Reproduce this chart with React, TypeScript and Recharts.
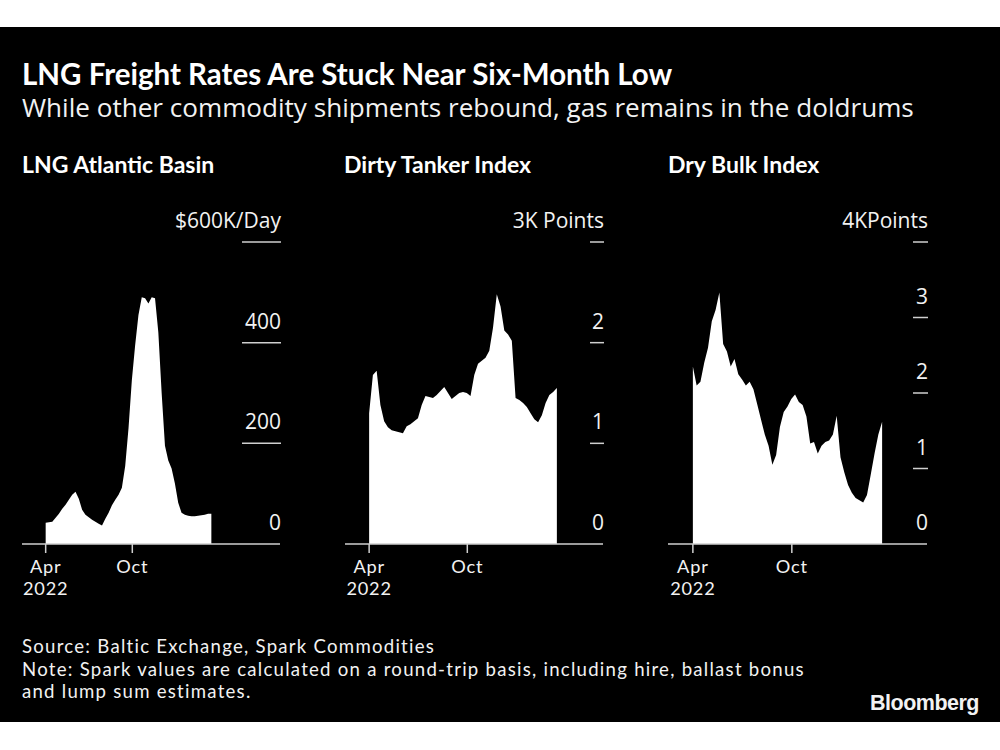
import React from 'react';
import { AreaChart, Area, XAxis, YAxis } from 'recharts';

// weekly samples starting Fri 1 Apr 2022 (day 0), ending mid-March 2023
const lngRates = [
  42, 43, 44, 52, 60, 70, 78, 88, 98, 104, 90, 68, 58, 53, 48, 44, 40, 37, 50, 62,
  77, 88, 98, 112, 155, 230, 325, 395, 455, 490, 488, 478, 490, 488, 420, 300, 195, 166, 150, 120,
  82, 62, 58, 56, 55, 55, 56, 57, 58, 60, 60,
];
const dirtyTanker = [
  1.3, 1.68, 1.72, 1.38, 1.22, 1.16, 1.13, 1.12, 1.11, 1.1, 1.17, 1.19, 1.22, 1.25, 1.38, 1.47, 1.46, 1.45, 1.48, 1.52,
  1.56, 1.5, 1.44, 1.47, 1.5, 1.51, 1.5, 1.47, 1.68, 1.79, 1.82, 1.85, 1.92, 2.15, 2.48, 2.36, 2.12, 2.08, 2.02, 1.45,
  1.43, 1.4, 1.36, 1.3, 1.24, 1.21, 1.28, 1.4, 1.48, 1.51, 1.55,
];
const dryBulk = [
  2.35, 2.1, 2.15, 2.4, 2.6, 2.95, 3.1, 3.33, 2.65, 2.55, 2.35, 2.45, 2.25, 2.18, 2.1, 2.15, 2.05, 1.85, 1.65, 1.45,
  1.3, 1.05, 1.18, 1.55, 1.75, 1.82, 1.92, 1.98, 1.88, 1.84, 1.69, 1.33, 1.35, 1.2, 1.3, 1.35, 1.37, 1.45, 1.7, 1.15,
  0.95, 0.78, 0.68, 0.61, 0.58, 0.55, 0.65, 0.92, 1.2, 1.45, 1.62,
];

const monthTicks = [0, 183];
const monthLabels = [['Apr', '2022'], ['Oct']];

const lngTicks = [0, 200, 400, 600];
const tankerTicks = [0, 1, 2, 3];
const bulkTicks = [0, 1, 2, 3, 4];

const panelTitles = ['LNG Atlantic Basin', 'Dirty Tanker Index', 'Dry Bulk Index'];
const units = ['$600K/Day', '3K Points', '4KPoints'];

const footerLines = [
  'Source: Baltic Exchange, Spark Commodities',
  'Note: Spark values are calculated on a round-trip basis, including hire, ballast bonus',
  'and lump sum estimates.',
];

const BOLD = "Lato, 'Open Sans', sans-serif";
const FONT = "'Open Sans', Lato, sans-serif";
const TIGHT = "Lato, 'Open Sans', sans-serif";
const TEXT = '#f2f2f2';
const AXIS = '#cfcfcf';

const toRows = (vals: number[]) => vals.map((v, i) => ({ day: i * 7, value: v }));

interface PanelProps {
  left: number;
  width: number;
  values: number[];
  ticks: number[];
  unit: string;
  xDomain: [number, number];
  lineW: number;
}

function Panel({ left, width, values, ticks, unit, xDomain, lineW }: PanelProps) {
  const data = toRows(values);
  const max = ticks[ticks.length - 1];

  const renderYTick = (p: any) => {
    const v = p.payload.value;
    const label = v === max ? unit : String(v);
    return (
      <g>
        {v !== 0 && (
          <line x1={width - lineW} x2={width + 1} y1={p.y} y2={p.y} stroke={AXIS} strokeWidth={1.5} />
        )}
        <text x={width + 1} y={p.y - 14} textAnchor="end" fill={TEXT} fontSize={21} fontFamily={FONT}>
          {label}
        </text>
      </g>
    );
  };

  const renderXTick = (p: any) => {
    const idx = monthTicks.indexOf(p.payload.value);
    const lines = monthLabels[idx] || [];
    return (
      <text x={p.x} y={373} textAnchor="middle" fill={TEXT} fontSize={18.2} letterSpacing={0.8} fontFamily={TIGHT}>
        {lines.map((t, i) => (
          <tspan key={t} x={p.x} dy={i === 0 ? 0 : 22}>
            {t}
          </tspan>
        ))}
      </text>
    );
  };

  return (
    <div style={{ position: 'absolute', left, top: 200 }}>
      <AreaChart width={width + 4} height={420} data={data} margin={{ top: 42, right: 4, bottom: 0, left: 0 }}>
        <XAxis
          dataKey="day"
          type="number"
          domain={xDomain}
          allowDataOverflow
          ticks={monthTicks}
          interval={0}
          height={76}
          tickSize={9}
          axisLine={{ stroke: AXIS, strokeWidth: 1.5 }}
          tickLine={{ stroke: AXIS, strokeWidth: 1.5 }}
          tick={renderXTick}
        />
        <YAxis
          orientation="right"
          mirror
          type="number"
          domain={[0, max]}
          ticks={ticks}
          interval={0}
          width={60}
          axisLine={false}
          tickLine={false}
          tick={renderYTick}
        />
        <Area
          type="linear"
          dataKey="value"
          stroke="none"
          fill="#ffffff"
          fillOpacity={1}
          isAnimationActive={false}
        />
      </AreaChart>
    </div>
  );
}

export default function App() {
  return (
    <div style={{ position: 'absolute', left: 0, top: 0, width: 1000, height: 750, background: '#fff', overflow: 'hidden' }}>
      <div style={{ position: 'absolute', left: 0, top: 27, width: 1000, height: 695, background: '#000' }} />
      <svg width={1000} height={750} style={{ position: 'absolute', left: 0, top: 0 }}>
        <text x={22} y={85} fill="#fff" fontSize={29.5} fontWeight={700} fontFamily={BOLD}>
          LNG Freight Rates Are Stuck Near Six-Month Low
        </text>
        <text x={22} y={117} fill={TEXT} fontSize={26.1} fontFamily={FONT}>
          While other commodity shipments rebound, gas remains in the doldrums
        </text>
        {panelTitles.map((t, i) => (
          <text key={t} x={[22, 344, 668][i]} y={173} fill="#fff" fontSize={23} fontWeight={700} fontFamily={BOLD}>
            {t}
          </text>
        ))}
        <text x={22} y={653} fill={TEXT} fontSize={18.6} letterSpacing={1.25} fontFamily={TIGHT}>
          {footerLines.map((t, i) => (
            <tspan key={i} x={22} dy={i === 0 ? 0 : 22.5}>
              {t}
            </tspan>
          ))}
        </text>
        <text x={979} y={710} textAnchor="end" fill={TEXT} fontSize={21.5} fontWeight={700} letterSpacing={-0.5} fontFamily="'Liberation Sans', Arial, sans-serif">
          Bloomberg
        </text>
      </svg>
      <Panel left={22} width={258} values={lngRates} ticks={lngTicks} unit={units[0]} xDomain={[-50, 495]} lineW={38} />
      <Panel left={345} width={258} values={dirtyTanker} ticks={tankerTicks} unit={units[1]} xDomain={[-45, 436]} lineW={13} />
      <Panel left={668} width={259} values={dryBulk} ticks={bulkTicks} unit={units[2]} xDomain={[-46, 433]} lineW={14} />
    </div>
  );
}
